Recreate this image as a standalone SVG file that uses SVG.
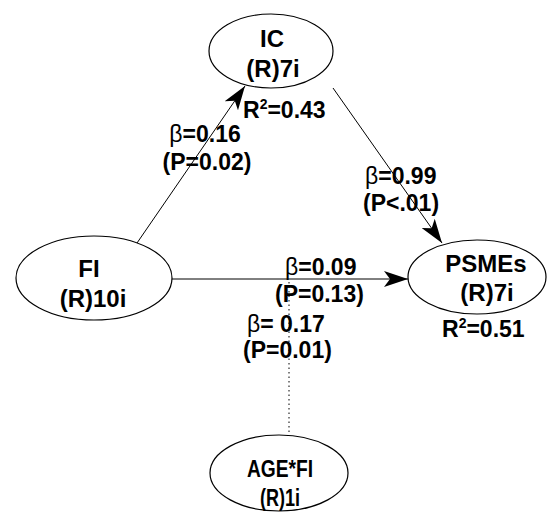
<svg xmlns="http://www.w3.org/2000/svg" width="552" height="514" viewBox="0 0 552 514">
<style>
.node{fill:#fff;stroke:#000;stroke-width:1.2}
.t{font-family:"Liberation Sans",Arial,sans-serif;font-weight:bold;font-size:24px;fill:#000}
.l{font-family:"Liberation Sans",Arial,sans-serif;font-weight:bold;font-size:23px;fill:#000}
.m{text-anchor:middle}
.b{font-weight:normal}
.edge{stroke:#000;stroke-width:1;fill:none}
.dot{stroke:#000;stroke-width:1;stroke-dasharray:1.5 3;fill:none}
</style>
<defs>
<marker id="ah" viewBox="0 0 24 16" refX="24" refY="8" markerWidth="24" markerHeight="16" markerUnits="userSpaceOnUse" orient="auto">
<path d="M0,0 L24,8 L0,16 L6,8 z" fill="#000"/>
</marker>
</defs>
<rect width="552" height="514" fill="#fff"/>
<g id="connectors">
<line class="edge" x1="137" y1="243" x2="245" y2="86" marker-end="url(#ah)"/>
<line class="edge" x1="333" y1="88" x2="442" y2="243" marker-end="url(#ah)"/>
<line class="edge" x1="172" y1="279" x2="408" y2="279" marker-end="url(#ah)"/>
<line class="dot" x1="289" y1="282" x2="289" y2="434"/>
</g>
<g id="IC">
<ellipse class="node" cx="271" cy="51" rx="62" ry="37"/>
<text class="t m" x="272" y="47">IC</text>
<text class="t m" x="273" y="77">(R)7i</text>
</g>
<g id="FI">
<ellipse class="node" cx="94" cy="278" rx="78" ry="42"/>
<text class="t m" x="89" y="277">FI</text>
<text class="t m" x="93" y="307">(R)10i</text>
</g>
<g id="PSMEs">
<ellipse class="node" cx="477" cy="277" rx="69" ry="37"/>
<text class="t m" x="486" y="272">PSMEs</text>
<text class="t m" x="487" y="301">(R)7i</text>
</g>
<g id="AGEFI">
<ellipse class="node" cx="279" cy="473" rx="69" ry="38"/>
<text class="t m" transform="translate(280,477) scale(0.8,1)">AGE*FI</text>
<text class="t m" transform="translate(280,506) scale(0.75,1)">(R)1i</text>
</g>
<g id="labels">
<text class="l" x="243" y="118">R<tspan font-size="14" dy="-9">2</tspan><tspan dy="9">=0.43</tspan></text>
<text class="l m" x="205" y="142"><tspan class="b">β</tspan>=0.16</text>
<text class="l m" x="207" y="170">(P=0.02)</text>
<text class="l" x="365" y="184"><tspan class="b">β</tspan>=0.99</text>
<text class="l" x="363" y="211">(P&lt;.01)</text>
<text class="l" x="285" y="275"><tspan class="b">β</tspan>=0.09</text>
<text class="l" x="275" y="302">(P=0.13)</text>
<text class="l" x="247" y="332"><tspan class="b">β</tspan>= 0.17</text>
<text class="l" x="243" y="358">(P=0.01)</text>
<text class="l" x="442" y="337">R<tspan font-size="14" dy="-9">2</tspan><tspan dy="9">=0.51</tspan></text>
</g>
</svg>
